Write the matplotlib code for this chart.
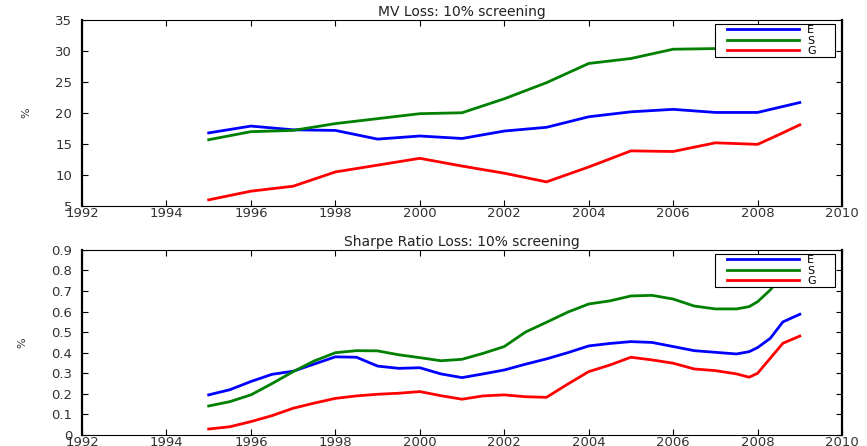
# MV loss and Sharpe ratio loss for E, S, G screening (10%)

import matplotlib
matplotlib.use("Agg")
import matplotlib.pyplot as plt
from matplotlib.patches import Rectangle

# MV loss, yearly points
mv_years = [1995, 1996, 1997, 1998, 1999, 2000, 2001, 2002, 2003, 2004,
            2005, 2006, 2007, 2008, 2008.5, 2009]
mv_E = [16.8, 17.9, 17.3, 17.2, 15.8, 16.3, 15.9, 17.1, 17.7, 19.4,
        20.2, 20.6, 20.1, 20.1, 20.9, 21.7]
mv_S = [15.7, 17.0, 17.2, 18.3, 19.1, 19.9, 20.05, 22.3, 24.9, 28.0,
        28.8, 30.3, 30.4, 31.0, 31.4, 31.8]
mv_G = [6.0, 7.4, 8.2, 10.5, 11.6, 12.7, 11.45, 10.3, 8.9, 11.3,
        13.9, 13.8, 15.2, 14.95, 16.5, 18.1]

# Sharpe ratio loss, half-yearly points
sr_years = [1995, 1995.5, 1996, 1996.5, 1997, 1997.5, 1998, 1998.5, 1999, 1999.5,
            2000, 2000.5, 2001, 2001.5, 2002, 2002.5, 2003, 2003.5, 2004, 2004.5,
            2005, 2005.5, 2006, 2006.5, 2007, 2007.5, 2007.8, 2008, 2008.3, 2008.6, 2009]
sr_E = [0.195, 0.22, 0.26, 0.295, 0.31, 0.345, 0.38, 0.378, 0.335, 0.324,
        0.327, 0.297, 0.279, 0.297, 0.316, 0.344, 0.37, 0.40, 0.433, 0.445,
        0.454, 0.45, 0.43, 0.41, 0.402, 0.394, 0.405, 0.425, 0.47, 0.55, 0.587]
sr_S = [0.141, 0.162, 0.195, 0.25, 0.308, 0.36, 0.40, 0.41, 0.409, 0.39,
        0.376, 0.361, 0.368, 0.397, 0.43, 0.50, 0.548, 0.597, 0.637, 0.652,
        0.676, 0.679, 0.661, 0.627, 0.613, 0.613, 0.624, 0.648, 0.705, 0.78, 0.84]
sr_G = [0.029, 0.04, 0.065, 0.094, 0.13, 0.155, 0.178, 0.19, 0.198, 0.203,
        0.211, 0.191, 0.174, 0.19, 0.195, 0.186, 0.183, 0.247, 0.308, 0.34,
        0.378, 0.365, 0.349, 0.321, 0.313, 0.297, 0.281, 0.30, 0.373, 0.446, 0.481]

labels = ["E", "S", "G"]
colors = ["#0000ff", "#008000", "#ff0000"]
x_ticks = list(range(1992, 2011, 2))

plt.rcParams["font.family"] = "DejaVu Sans"
plt.rcParams["font.size"] = 9

fig = plt.figure(figsize=(8.67, 4.46), dpi=100)
ax1 = fig.add_axes([0.0946, 0.538, 0.8766, 0.417])
ax2 = fig.add_axes([0.0946, 0.0247, 0.8766, 0.415])


def style_axes(ax, title, yticks, ylabels):
    ax.set_xlim(1992, 2010)
    ax.set_xticks(x_ticks)
    ax.set_xticklabels([str(t) for t in x_ticks])
    ax.set_ylim(yticks[0], yticks[-1])
    ax.set_yticks(yticks)
    ax.set_yticklabels(ylabels)
    ax.tick_params(direction="in", top=True, right=True, length=4, width=0.8,
                   labelsize=9.5, labelcolor="#333333")
    ax.tick_params(axis="x", pad=1)
    ax.tick_params(axis="y", pad=7)
    ax.set_title(title, fontsize=10, pad=3, color="#222222")
    ax.set_ylabel("%", fontsize=8, labelpad=17, color="#333333")
    for s in ax.spines.values():
        s.set_color("black")
        s.set_linewidth(0.8)
    ax.spines["left"].set_linewidth(1.6)
    ax.spines["right"].set_linewidth(1.6)

    # legend box: white frame with the entries placed inside it
    box = Rectangle((0.833, 0.801), 0.158, 0.178, transform=ax.transAxes,
                    facecolor="white", edgecolor="black", lw=0.8, zorder=5)
    ax.add_patch(box)
    leg = ax.legend(loc="upper left", bbox_to_anchor=(0.849, 0.972),
                    handlelength=6.5, handletextpad=0.7, borderpad=0.0,
                    labelspacing=0.05, frameon=False, fontsize=8,
                    borderaxespad=0)
    leg.set_zorder(6)


for vals, lab, col in zip([mv_E, mv_S, mv_G], labels, colors):
    ax1.plot(mv_years, vals, color=col, lw=2, label=lab)
style_axes(ax1, "MV Loss: 10% screening", list(range(5, 40, 5)),
           [str(v) for v in range(5, 40, 5)])

sr_yt = [i / 10 for i in range(10)]
for vals, lab, col in zip([sr_E, sr_S, sr_G], labels, colors):
    ax2.plot(sr_years, vals, color=col, lw=2, label=lab)
style_axes(ax2, "Sharpe Ratio Loss: 10% screening", sr_yt,
           ["0"] + ["%.1f" % v for v in sr_yt[1:]])

fig.savefig("out.png", dpi=100)
